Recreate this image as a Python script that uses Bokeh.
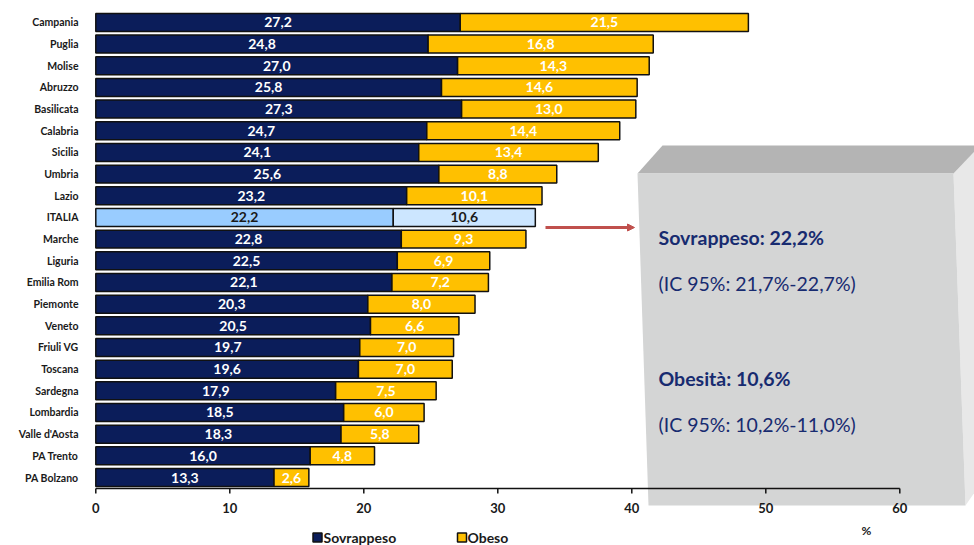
from bokeh.plotting import figure
from bokeh.models import Range1d, FixedTicker, ColumnDataSource, Arrow, NormalHead
from bokeh.core.properties import value
from bokeh.embed import file_html
from bokeh.resources import INLINE

# ---------------- data ----------------
regions = ["Campania", "Puglia", "Molise", "Abruzzo", "Basilicata", "Calabria",
           "Sicilia", "Umbria", "Lazio", "ITALIA", "Marche", "Liguria",
           "Emilia Rom", "Piemonte", "Veneto", "Friuli VG", "Toscana",
           "Sardegna", "Lombardia", "Valle d'Aosta", "PA Trento", "PA Bolzano"]
sovrappeso = [27.2, 24.8, 27.0, 25.8, 27.3, 24.7, 24.1, 25.6, 23.2, 22.2, 22.8,
              22.5, 22.1, 20.3, 20.5, 19.7, 19.6, 17.9, 18.5, 18.3, 16.0, 13.3]
obeso = [21.5, 16.8, 14.3, 14.6, 13.0, 14.4, 13.4, 8.8, 10.1, 10.6, 9.3,
         6.9, 7.2, 8.0, 6.6, 7.0, 7.0, 7.5, 6.0, 5.8, 4.8, 2.6]
x_ticks = [0, 10, 20, 30, 40, 50, 60]
x_tick_labels = ["0", "10", "20", "30", "40", "50", "60"]
series_names = ["Sovrappeso", "Obeso"]
box_lines = ["Sovrappeso: 22,2%", "(IC 95%: 21,7%-22,7%)",
             "Obesità: 10,6%", "(IC 95%: 10,2%-11,0%)"]

# ---------------- styles ----------------
NAVY = "#0b1d5a"
ORANGE = "#ffc000"
IT_S = "#99ccff"
IT_O = "#cce6ff"
TXT_BLUE = "#172b70"
FONT = "Lato"

W, H = 974, 545
LEFT = 80
ZERO_PX = 95.3
PXU = 13.4          # px per x unit
ROW = 21.67         # px per row
Y0PX = 477          # pixel centre of last row

x_start = -(ZERO_PX - LEFT) / PXU
x_end = x_start + (W - LEFT) / PXU
y_top = Y0PX / ROW
y_bot = (Y0PX - H) / ROW

def X(px):
    return (px - LEFT) / PXU + x_start

def Y(py):
    return (Y0PX - py) / ROW

n = len(regions)
ypos = [n - 1 - i for i in range(n)]
is_it = [r == "ITALIA" for r in regions]

src = ColumnDataSource(dict(
    y=ypos,
    s=sovrappeso,
    tot=[a + b for a, b in zip(sovrappeso, obeso)],
    s_mid=[a / 2 for a in sovrappeso],
    o_mid=[a + b / 2 for a, b in zip(sovrappeso, obeso)],
    s_col=[IT_S if t else NAVY for t in is_it],
    o_col=[IT_O if t else ORANGE for t in is_it],
    s_txtcol=["#1a1a1a" if t else "white" for t in is_it],
    o_txtcol=["#1a1a1a" if t else "white" for t in is_it],
    s_lab=[f"{v:.1f}".replace(".", ",") for v in sovrappeso],
    o_lab=[f"{v:.1f}".replace(".", ",") for v in obeso],
))

p = figure(width=W, height=H, output_backend="svg", toolbar_location=None,
           x_range=Range1d(x_start, x_end), y_range=Range1d(y_bot, y_top),
           x_axis_location=None, min_border_left=LEFT, min_border_right=0,
           min_border_top=0, min_border_bottom=0)
p.outline_line_color = None
p.xgrid.visible = False
p.ygrid.visible = False
p.background_fill_color = "white"
p.border_fill_color = "white"

# y axis with region names
p.yaxis.ticker = FixedTicker(ticks=ypos)
p.yaxis.major_label_overrides = {y: r for y, r in zip(ypos, regions)}
p.yaxis.axis_line_color = None
p.yaxis.major_tick_line_color = None
p.yaxis.minor_tick_line_color = None
p.yaxis.major_tick_out = 0
p.yaxis.major_tick_in = 0
p.yaxis.major_label_standoff = 2
p.yaxis.major_label_text_font = FONT
p.yaxis.major_label_text_font_style = "bold"
p.yaxis.major_label_text_font_size = "10.5px"
p.yaxis.major_label_text_color = "#1a1a1a"

# ---------------- 3D grey box ----------------
front = [(637, 173), (953, 173), (965, 505), (648, 505)]
top = [(637, 173), (662, 145), (974, 145), (974, 151), (953, 173)]
side = [(953, 173), (974, 151), (974, 492), (965, 505)]
for poly, col in [(side, "#e8e8e8"), (top, "#b4b4b4"), (front, "#d4d5d5")]:
    p.patch([X(a) for a, b in poly], [Y(b) for a, b in poly],
            fill_color=col, line_color=None)

# ---------------- bars ----------------
BH = 0.83
p.hbar(y="y", left=0, right="s", height=BH, fill_color="s_col",
       line_color="#111111", line_width=1.5, source=src)
p.hbar(y="y", left="s", right="tot", height=BH, fill_color="o_col",
       line_color="#111111", line_width=1.5, source=src)

p.text(x="s_mid", y="y", text="s_lab", text_color="s_txtcol",
       text_font=value(FONT), text_font_style="bold", text_font_size="14px",
       text_align="center", text_baseline="middle", source=src)
p.text(x="o_mid", y="y", text="o_lab", text_color="o_txtcol",
       text_font=value(FONT), text_font_style="bold", text_font_size="14px",
       text_align="center", text_baseline="middle", source=src)

# ---------------- manual x axis ----------------
ax_y = Y(488)
p.segment(x0=[x_ticks[0]], y0=[ax_y], x1=[x_ticks[-1]], y1=[ax_y],
          line_color="#111111", line_width=1.5)
p.segment(x0=x_ticks, y0=[ax_y] * len(x_ticks), x1=x_ticks,
          y1=[Y(493)] * len(x_ticks), line_color="#111111", line_width=1.5)
p.text(x=x_ticks, y=[Y(507)] * len(x_ticks), text=x_tick_labels,
       text_font=value(FONT), text_font_style="bold", text_font_size="13px",
       text_color="#1a1a1a", text_align="center", text_baseline="middle")
p.text(x=[X(866)], y=[Y(530)], text=["%"], text_font=value(FONT),
       text_font_style="bold", text_font_size="12px", text_color="#1a1a1a",
       text_align="center", text_baseline="middle")

# ---------------- legend ----------------
leg_y = Y(537)
p.rect(x=[X(317), X(461.5)], y=[leg_y] * 2, width=9, height=9,
       width_units="screen", height_units="screen",
       fill_color=[NAVY, ORANGE], line_color="#111111", line_width=1.5)
p.text(x=[X(323), X(467)], y=[leg_y] * 2, text=series_names,
       text_font=value(FONT), text_font_style="bold", text_font_size="14px",
       text_color="#1a1a1a", text_align="left", text_baseline="middle")

# ---------------- arrow ----------------
p.add_layout(Arrow(end=NormalHead(size=7, fill_color="#c0504d",
                                  line_color="#c0504d"),
                   x_start=X(545), y_start=Y(227), x_end=X(634), y_end=Y(227),
                   line_color="#c0504d", line_width=3))

# ---------------- box texts ----------------
p.text(x=[X(658)] * 4, y=[Y(237), Y(283), Y(378), Y(424)], text=box_lines,
       text_font=value(FONT), text_font_style=["bold", "normal", "bold", "normal"],
       text_font_size="19.5px", text_color=TXT_BLUE, text_align="left",
       text_baseline="middle")

open("out.html", "w").write(file_html(p, INLINE))
